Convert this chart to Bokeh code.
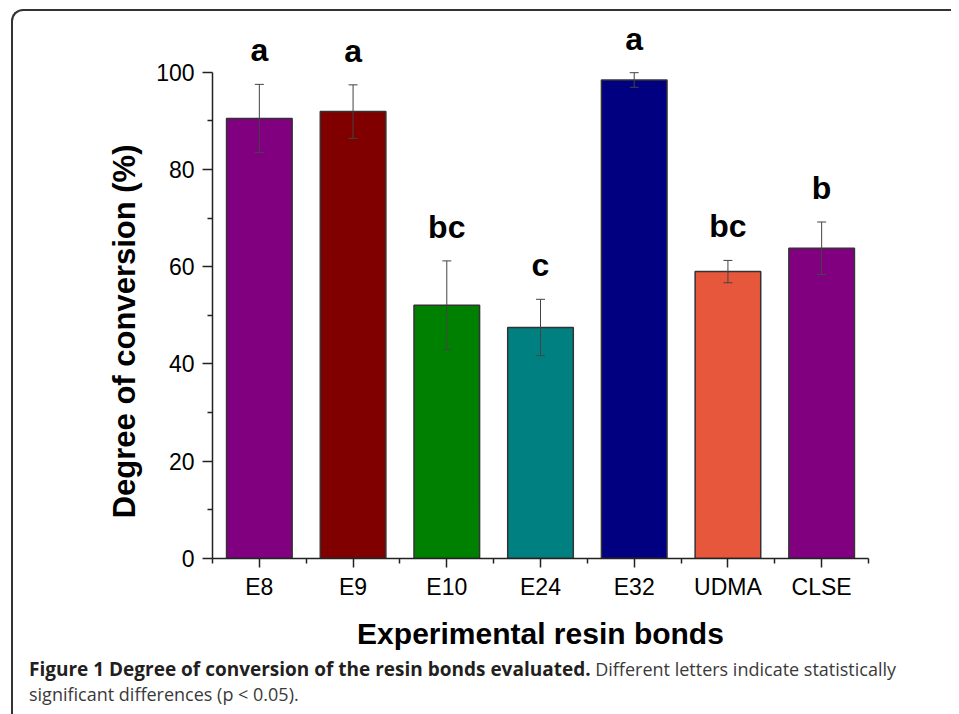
import math
from bokeh.plotting import figure
from bokeh.models import ColumnDataSource, Range1d, FixedTicker, Whisker, TeeHead, Div
from bokeh.layouts import column, row
from bokeh.core.properties import value
from bokeh.embed import file_html
from bokeh.resources import INLINE

# ---- data ----
categories = ["E8", "E9", "E10", "E24", "E32", "UDMA", "CLSE"]
means = [90.5, 91.9, 52.1, 47.5, 98.4, 59.0, 63.8]
sds = [7.0, 5.5, 9.1, 5.8, 1.5, 2.3, 5.4]
letters = ["a", "a", "bc", "c", "a", "bc", "b"]
y_ticks = [0, 20, 40, 60, 80, 100]
y_minor = [10, 30, 50, 70, 90]
x_label = "Experimental resin bonds"
y_label = "Degree of conversion (%)"
caption_bold = "Figure 1 Degree of conversion of the resin bonds evaluated."
caption_regular_1 = "Different letters indicate statistically"
caption_regular_2 = "significant differences (p < 0.05)."

palette = ["#800080", "#800000", "#008000", "#008080", "#000080", "#E6573C", "#800080"]

xs = [i + 1 for i in range(len(categories))]
src = ColumnDataSource(dict(
    x=xs,
    mean=means,
    upper=[m + s for m, s in zip(means, sds)],
    lower=[m - s for m, s in zip(means, sds)],
    letter=letters,
    color=palette,
))

ARIAL = "Liberation Sans"
TITLE_W = 140
FRAME_H = 539
TOP, BOTTOM = 8, 100

p = figure(frame_width=656, frame_height=FRAME_H,
           x_range=Range1d(0.5, len(categories) + 0.5),
           y_range=Range1d(0, 110.84),
           min_border_left=199 - TITLE_W, min_border_right=83,
           min_border_top=TOP, min_border_bottom=BOTTOM,
           output_backend="svg", toolbar_location=None)
p.grid.visible = False
p.outline_line_color = None
p.border_fill_color = None
p.background_fill_color = None

p.vbar(x="x", top="mean", width=0.7, source=src, fill_color="color",
       line_color="#333333", line_width=1.5)

w = Whisker(base="x", upper="upper", lower="lower", source=src,
            line_color="#444444", line_width=1,
            upper_head=TeeHead(size=9, line_color="#444444", line_width=1),
            lower_head=TeeHead(size=9, line_color="#444444", line_width=1))
w.level = "overlay"
p.add_layout(w)

p.text(x="x", y="upper", text="letter", source=src,
       text_font=value(ARIAL), text_font_style="bold", text_font_size="32px",
       text_align="center", text_baseline="alphabetic", y_offset=-34,
       text_color="black")

# axes
for ax in (p.xaxis[0], p.yaxis[0]):
    ax.axis_line_color = "#222222"
    ax.axis_line_width = 1.5
    ax.major_tick_line_color = "#222222"
    ax.major_tick_line_width = 1.5
    ax.minor_tick_line_color = "#222222"
    ax.minor_tick_line_width = 1.5
    ax.major_tick_in = 0
    ax.minor_tick_in = 0
    ax.minor_tick_out = 5
    ax.major_label_text_font = ARIAL
    ax.major_label_text_font_size = "23px"
    ax.major_label_text_color = "black"
    ax.axis_label_text_font = ARIAL
    ax.axis_label_text_font_style = "bold"
    ax.axis_label_text_color = "black"

p.yaxis.ticker = FixedTicker(ticks=y_ticks, minor_ticks=y_minor)
p.yaxis.bounds = (0, 100)
p.yaxis.major_tick_out = 10
p.yaxis.major_label_standoff = 8

p.xaxis.ticker = FixedTicker(ticks=xs, minor_ticks=[x - 0.5 for x in xs] + [xs[-1] + 0.5])
p.xaxis.major_label_overrides = {x: c for x, c in zip(xs, categories)}
p.xaxis.major_tick_out = 9
p.xaxis.major_label_standoff = 6
p.xaxis.axis_label = x_label
p.xaxis.axis_label_text_font_size = "30px"
p.xaxis.axis_label_standoff = 14

# y-axis title panel (title sits lower than the frame centre, as in the original)
yt = figure(frame_width=TITLE_W, frame_height=FRAME_H,
            min_border_left=0, min_border_right=0,
            min_border_top=TOP, min_border_bottom=BOTTOM,
            x_range=Range1d(0, TITLE_W), y_range=p.y_range,
            x_axis_location=None, y_axis_location=None,
            output_backend="svg", toolbar_location=None)
yt.grid.visible = False
yt.outline_line_color = None
yt.border_fill_color = None
yt.background_fill_color = None
yt.text(x=[111], y=[46.7], text=[y_label], angle=math.pi / 2,
        text_font=value(ARIAL), text_font_style="bold", text_font_size="31px",
        text_align="center", text_baseline="alphabetic", text_color="black")

# caption
cap_html = (
    '<div style="position:relative; top:-6px; margin-left:11px; white-space:nowrap; '
    'font-family:\'Open Sans\', sans-serif; font-size:18px; line-height:25px; color:#3a3a3a;">'
    '<span style="font-weight:bold; font-size:19px; color:#231f20;">' + caption_bold + '</span> '
    + caption_regular_1 + '<br>' + caption_regular_2.replace("<", "&lt;") + '</div>'
)
cap = Div(text=cap_html, width=900, height=48)

layout = column(row(yt, p, spacing=0), cap, spacing=0, styles={
    "border-top": "2px solid #333333",
    "border-left": "2px solid #333333",
    "border-top-left-radius": "12px",
    "margin-left": "11px",
    "margin-top": "9px",
})

open("out.html", "w").write(file_html(layout, INLINE))
